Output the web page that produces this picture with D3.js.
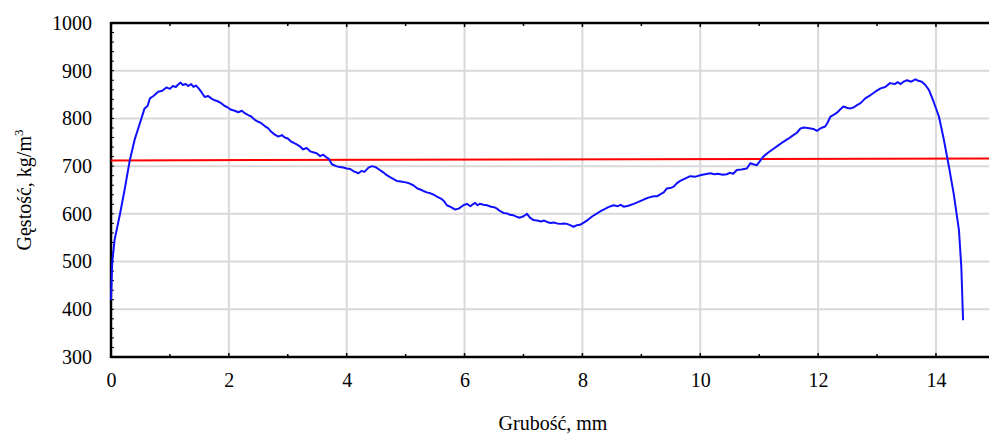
<!DOCTYPE html>
<html>
<head>
<meta charset="utf-8">
<script src="https://cdn.jsdelivr.net/npm/d3@7"></script>
<style>
  body { margin: 0; background: #fff; }
  svg { display: block; }
  svg text { font-family: 'Liberation Serif', 'Times New Roman', serif; fill: #000; }
</style>
</head>
<body>
<svg id="chart" width="989" height="435"></svg>
<script>
// profile of density across the board thickness
const thickness = [
  0.0, 0.02, 0.06, 0.15, 0.23, 0.32, 0.40, 0.49, 0.57, 0.62, 0.66, 0.72, 0.80, 0.87, 0.94, 1.0, 1.05, 1.10,
  1.14, 1.18, 1.22, 1.27, 1.31, 1.36, 1.40, 1.44, 1.48, 1.53, 1.59, 1.65, 1.70, 1.76, 1.81, 1.87,
  1.93, 1.98, 2.04, 2.10, 2.16, 2.22, 2.27, 2.33, 2.38, 2.44, 2.50, 2.55, 2.61, 2.67, 2.72, 2.78,
  2.84, 2.90, 2.95, 3.0, 3.05, 3.10, 3.16, 3.21, 3.26, 3.32, 3.38, 3.43, 3.49, 3.55, 3.60, 3.65,
  3.69, 3.75, 3.82, 3.88, 3.94, 4.0, 4.06, 4.12, 4.2, 4.25, 4.30, 4.37, 4.43, 4.49, 4.55, 4.62,
  4.68, 4.75, 4.85, 4.92, 5.0, 5.06, 5.13, 5.20, 5.25, 5.30, 5.36, 5.42, 5.48, 5.53, 5.60, 5.65,
  5.70, 5.77, 5.84, 5.90, 5.98, 6.04, 6.10, 6.14, 6.18, 6.22, 6.26, 6.32, 6.38, 6.45, 6.50, 6.55,
  6.60, 6.66, 6.72, 6.77, 6.83, 6.88, 6.94, 7.0, 7.06, 7.11, 7.17, 7.23, 7.30, 7.35, 7.40, 7.46,
  7.51, 7.57, 7.63, 7.68, 7.74, 7.80, 7.85, 7.90, 7.96, 8.03, 8.10, 8.17, 8.25, 8.30, 8.36, 8.44,
  8.53, 8.60, 8.65, 8.70, 8.78, 8.87, 8.95, 9.04, 9.12, 9.21, 9.27, 9.32, 9.38, 9.43, 9.49, 9.55,
  9.60, 9.66, 9.74, 9.83, 9.92, 10.0, 10.08, 10.17, 10.24, 10.30, 10.38, 10.45, 10.50, 10.56, 10.62,
  10.70, 10.79, 10.85, 10.90, 10.96, 11.01, 11.07, 11.16, 11.25, 11.33, 11.41, 11.50, 11.58, 11.64,
  11.70, 11.76, 11.82, 11.87, 11.92, 11.98, 12.05, 12.12, 12.16, 12.21, 12.27, 12.32, 12.37, 12.43,
  12.50, 12.55, 12.60, 12.66, 12.72, 12.80, 12.89, 12.97, 13.06, 13.14, 13.22, 13.30, 13.35, 13.40,
  13.45, 13.51, 13.58, 13.65, 13.70, 13.76, 13.82, 13.88, 13.96, 14.05, 14.13, 14.22, 14.30, 14.39,
  14.43, 14.46
]
const density = [
  420, 496, 545, 598, 650, 713, 755, 790, 821, 826, 842, 847, 856, 858, 865, 862, 868, 866,
  871, 875, 870, 872, 868, 872, 866, 869, 864, 856, 845, 847, 842, 838, 836, 832,
  826, 823, 818, 816, 813, 816, 811, 807, 804, 797, 793, 790, 784, 779, 772, 766,
  762, 765, 760, 758, 752, 749, 745, 741, 735, 738, 731, 729, 727, 721, 724, 719,
  716, 704, 700, 698, 697, 695, 694, 689, 685, 690, 688, 697, 700, 698, 693, 687,
  681, 676, 669, 668, 666, 664, 660, 653, 651, 648, 645, 643, 640, 636, 632, 627,
  618, 614, 609, 611, 618, 621, 616, 620, 623, 618, 621, 619, 618, 615, 614, 611,
  606, 602, 601, 598, 597, 594, 592, 595, 600, 592, 587, 586, 584, 586, 583, 581,
  582, 580, 579, 580, 579, 576, 573, 576, 577, 582, 588, 595, 601, 605, 609, 614,
  618, 616, 619, 615, 617, 621, 625, 630, 634, 637, 637, 641, 645, 653, 654, 657,
  664, 669, 674, 679, 678, 681, 683, 685, 683, 684, 682, 683, 686, 684, 692,
  693, 695, 706, 704, 702, 710, 720, 729, 737, 744, 751, 758, 765, 770,
  779, 781, 780, 779, 778, 774, 780, 783, 791, 804, 808, 812, 818, 825,
  822, 821, 823, 828, 832, 842, 849, 856, 863, 866, 874, 872, 876, 872,
  877, 880, 877, 882, 879, 877, 870, 860, 835, 804, 758, 699, 643, 566,
  489, 377
]

// mean level line
const meanX = [0, 14.9]
const meanY = [712, 716]

const yTicks = [300, 400, 500, 600, 700, 800, 900, 1000]
const xTicks = [0, 2, 4, 6, 8, 10, 12, 14]

const margin = { top: 23, right: 0, bottom: 78, left: 111 }
const width = 989 - margin.left - margin.right
const height = 435 - margin.top - margin.bottom

const svg = d3.select('#chart')
const g = svg.append('g')
  .attr('transform', 'translate(' + margin.left + ',' + margin.top + ')')

const x = d3.scaleLinear().domain([0, 14.9]).range([0, width])
const y = d3.scaleLinear().domain([300, 1000]).range([height, 0])

// grid
g.append('g')
  .selectAll('line')
  .data(yTicks.slice(1))
  .enter().append('line')
  .attr('x1', 0).attr('x2', width)
  .attr('y1', d => y(d)).attr('y2', d => y(d))
  .attr('stroke', '#d9d9d9').attr('stroke-width', 2)

g.append('g')
  .selectAll('line')
  .data(xTicks.slice(1))
  .enter().append('line')
  .attr('x1', d => x(d)).attr('x2', d => x(d))
  .attr('y1', 0).attr('y2', height)
  .attr('stroke', '#d9d9d9').attr('stroke-width', 2)

// axes
const xAxis = g.append('g')
  .attr('transform', 'translate(0,' + height + ')')
  .call(d3.axisBottom(x).tickValues(xTicks).tickSize(0).tickPadding(16).tickFormat(d3.format('d')))
const xMinor = d3.range(1, 15)
g.append('g').selectAll('line').data(xMinor).enter().append('line')
  .attr('x1', d => x(d)).attr('x2', d => x(d))
  .attr('y1', height).attr('y2', d => height - (d % 2 === 0 ? 4 : 3))
  .attr('stroke', '#000').attr('stroke-width', 1.5)
g.append('g').selectAll('line').data(xMinor).enter().append('line')
  .attr('x1', d => x(d)).attr('x2', d => x(d))
  .attr('y1', 0).attr('y2', d => (d % 2 === 0 ? 4 : 3))
  .attr('stroke', '#000').attr('stroke-width', 1.5)

const yAxis = g.append('g')
  .call(d3.axisLeft(y).tickValues(yTicks).tickSize(0).tickPadding(19).tickFormat(d3.format('d')))
const yMinor = d3.range(300, 1001, 20)
g.append('g').selectAll('line').data(yMinor).enter().append('line')
  .attr('x1', 0).attr('x2', 3)
  .attr('y1', d => y(d)).attr('y2', d => y(d))
  .attr('stroke', '#000').attr('stroke-width', 1)

xAxis.select('.domain').remove()
yAxis.select('.domain').remove()
xAxis.attr('font-family', null).attr('font-size', null)
yAxis.attr('font-family', null).attr('font-size', null)
svg.selectAll('.tick text')
  .style('font-size', '20px')
  .style('font-family', "'Liberation Serif', serif")

// frame: left, bottom, top
g.append('line').attr('x1', 0).attr('x2', 0).attr('y1', -1).attr('y2', height + 1)
  .attr('stroke', '#000').attr('stroke-width', 2.5)
g.append('line').attr('x1', 0).attr('x2', width).attr('y1', height).attr('y2', height)
  .attr('stroke', '#000').attr('stroke-width', 2.5)
g.append('line').attr('x1', 0).attr('x2', width).attr('y1', 0).attr('y2', 0)
  .attr('stroke', '#000').attr('stroke-width', 2.5)

// mean line
const meanData = meanX.map((d, i) => [d, meanY[i]])
g.append('path')
  .datum(meanData)
  .attr('fill', 'none')
  .attr('stroke', '#ff0000')
  .attr('stroke-width', 2)
  .attr('d', d3.line().x(d => x(d[0])).y(d => y(d[1])))

// density profile
const profile = thickness.map((d, i) => [d, density[i]])
g.append('path')
  .datum(profile)
  .attr('fill', 'none')
  .attr('stroke', '#1010ff')
  .attr('stroke-width', 2)
  .attr('stroke-linejoin', 'round')
  .attr('d', d3.line().x(d => x(d[0])).y(d => y(d[1])))

// titles
svg.append('text')
  .attr('x', 553).attr('y', 430)
  .attr('text-anchor', 'middle')
  .style('font-size', '20px')
  .text('Grubość, mm')

const yTitle = svg.append('text')
  .attr('transform', 'translate(31,190) rotate(-90)')
  .attr('text-anchor', 'middle')
  .style('font-size', '20px')
yTitle.append('tspan').text('Gęstość, kg/m')
yTitle.append('tspan').style('font-size', '13px').attr('dy', -8).text('3')
</script>
</body>
</html>
